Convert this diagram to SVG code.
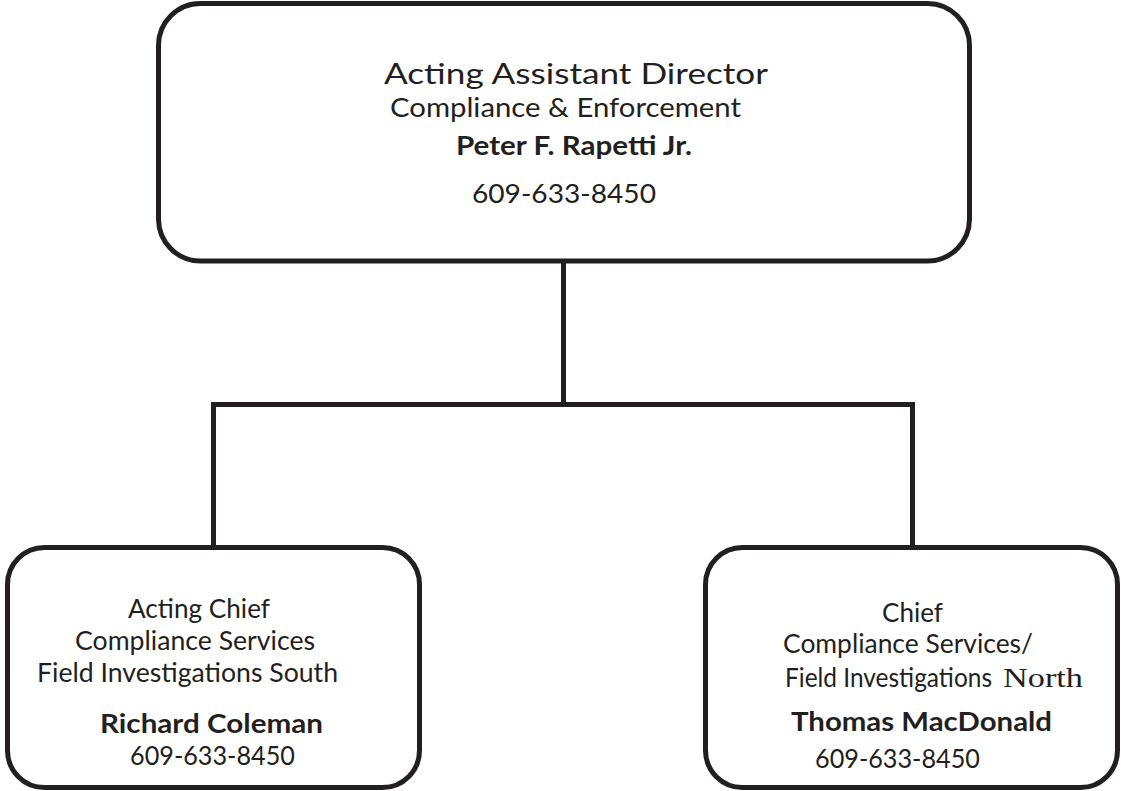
<svg xmlns="http://www.w3.org/2000/svg" width="1121" height="791" viewBox="0 0 1121 791">
<style>
.box{fill:#fff;stroke:#231f20;stroke-width:5}
.conn{fill:none;stroke:#231f20;stroke-width:5;stroke-linecap:square}
text{font-family:Lato,"Liberation Sans",sans-serif;fill:#231f20;font-size:26.5px}
.b{font-weight:bold}
.serif{font-family:"Liberation Serif",serif;font-size:28px}
</style>
<rect width="1121" height="791" fill="#fff"/>
<g id="connectors">
<path class="conn" d="M563.5 261V404.5M213.5 404.5H912.5M213.5 404.5V547.5M912.5 404.5V547.5"/>
</g>
<g id="node-director">
<rect class="box" x="158.5" y="3.5" width="811" height="257.5" rx="42" ry="42"/>
<text x="384" y="84" textLength="384" lengthAdjust="spacingAndGlyphs" style="font-size:28px">Acting Assistant Director</text>
<text x="390" y="117" textLength="351" lengthAdjust="spacingAndGlyphs">Compliance &amp; Enforcement</text>
<text class="b" x="456" y="155" textLength="236" lengthAdjust="spacingAndGlyphs">Peter F. Rapetti Jr.</text>
<text x="472" y="203" textLength="184" lengthAdjust="spacingAndGlyphs">609-633-8450</text>
</g>
<g id="node-south">
<rect class="box" x="7.5" y="547.5" width="412" height="240" rx="37" ry="37"/>
<text x="128" y="618" textLength="142" lengthAdjust="spacingAndGlyphs">Acting Chief</text>
<text x="75" y="650" textLength="240" lengthAdjust="spacingAndGlyphs">Compliance Services</text>
<text x="37" y="682" textLength="301" lengthAdjust="spacingAndGlyphs">Field Investigations South</text>
<text class="b" x="100" y="733" textLength="223" lengthAdjust="spacingAndGlyphs">Richard Coleman</text>
<text x="130" y="765" textLength="165" lengthAdjust="spacingAndGlyphs">609-633-8450</text>
</g>
<g id="node-north">
<rect class="box" x="705.5" y="547.5" width="412" height="240" rx="37" ry="37"/>
<text x="882" y="622" textLength="61" lengthAdjust="spacingAndGlyphs">Chief</text>
<text x="783" y="653" textLength="250" lengthAdjust="spacingAndGlyphs">Compliance Services/</text>
<text x="785" y="687" textLength="207" lengthAdjust="spacingAndGlyphs">Field Investigations</text>
<text class="serif" x="1003" y="687" textLength="80" lengthAdjust="spacingAndGlyphs">North</text>
<text class="b" x="791" y="731" textLength="261" lengthAdjust="spacingAndGlyphs">Thomas MacDonald</text>
<text x="815" y="768" textLength="165" lengthAdjust="spacingAndGlyphs">609-633-8450</text>
</g>
</svg>
